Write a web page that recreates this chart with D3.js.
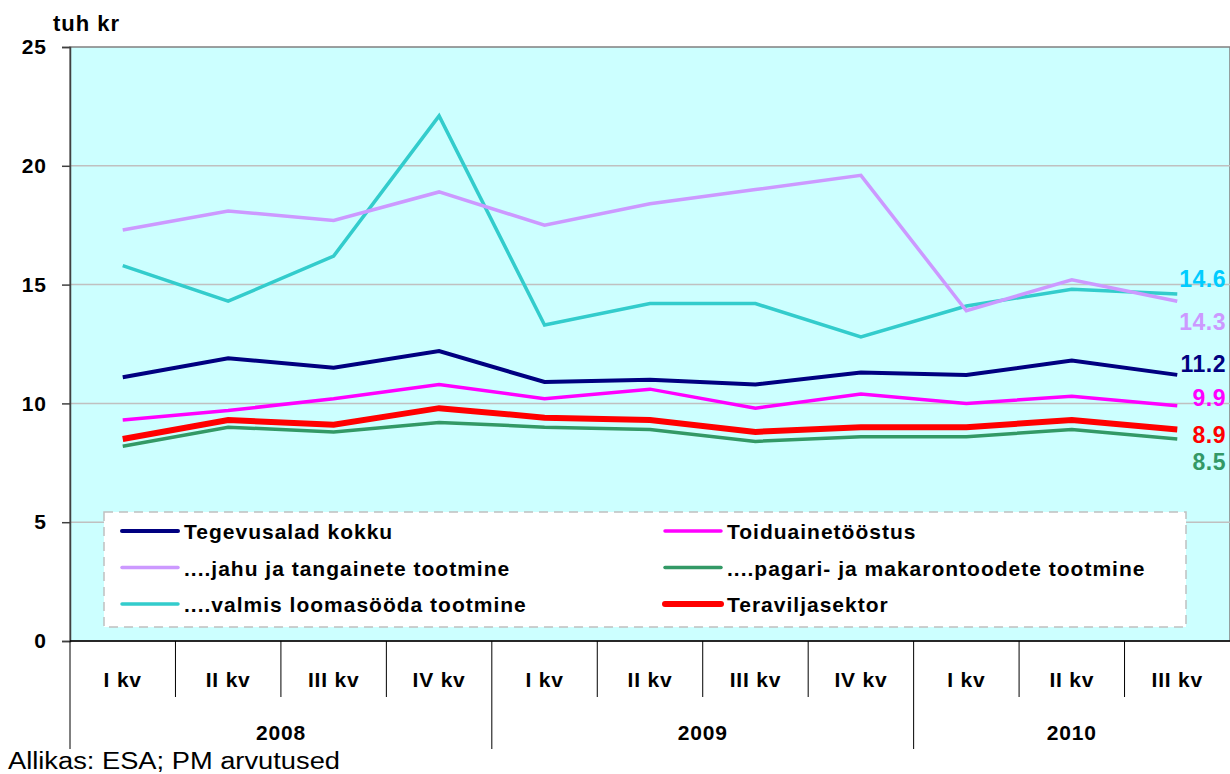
<!DOCTYPE html>
<html>
<head>
<meta charset="utf-8">
<script src="https://d3js.org/d3.v7.min.js"></script>
<style>
  body { margin: 0; background: #ffffff; font-family: "Liberation Sans", Arial, sans-serif; }
  text { font-family: "Liberation Sans", Arial, sans-serif; }
</style>
</head>
<body>
<svg id="chart" width="1230" height="774"></svg>
<script>
// categories
var quarters = ["I kv", "II kv", "III kv", "IV kv", "I kv", "II kv", "III kv", "IV kv", "I kv", "II kv", "III kv"];
var years = ["2008", "2009", "2010"];
var yearSpan = [4, 4, 3];
var yTicks = [0, 5, 10, 15, 20, 25];

// series values (tuh kr)
var tegevusalad = [11.1, 11.9, 11.5, 12.2, 10.9, 11.0, 10.8, 11.3, 11.2, 11.8, 11.2];
var toiduaine  = [9.3, 9.7, 10.2, 10.8, 10.2, 10.6, 9.8, 10.4, 10.0, 10.3, 9.9];
var jahu       = [17.3, 18.1, 17.7, 18.9, 17.5, 18.4, 19.0, 19.6, 13.9, 15.2, 14.3];
var pagari     = [8.2, 9.0, 8.8, 9.2, 9.0, 8.9, 8.4, 8.6, 8.6, 8.9, 8.5];
var loomasoot  = [15.8, 14.3, 16.2, 22.1, 13.3, 14.2, 14.2, 12.8, 14.1, 14.8, 14.6];
var teravili   = [8.5, 9.3, 9.1, 9.8, 9.4, 9.3, 8.8, 9.0, 9.0, 9.3, 8.9];

var series = [
  {name: "Tegevusalad kokku", values: tegevusalad, color: "#000080", width: 4, label: "#000080"},
  {name: "....jahu ja tangainete tootmine", values: jahu, color: "#cc99ff", width: 3.5, label: "#cc99ff"},
  {name: "....valmis loomasööda tootmine", values: loomasoot, color: "#33cccc", width: 3.5, label: "#00ccff"},
  {name: "Toiduainetööstus", values: toiduaine, color: "#ff00ff", width: 3.5, label: "#ff00ff"},
  {name: "....pagari- ja makarontoodete tootmine", values: pagari, color: "#339966", width: 3.5, label: "#339966"},
  {name: "Teraviljasektor", values: teravili, color: "#ff0000", width: 6, label: "#ff0000"}
];
// drawing order (red on top of others)
var drawOrder = [2, 1, 0, 3, 4, 5];
// baseline offsets for end labels so they do not collide
var labelDy = {0: -3, 1: 29, 2: -7, 3: 0, 4: 31, 5: 13};

var svg = d3.select("#chart");
var mLeft = 70, mRight = 1230, mTop = 47, mBottom = 641;

var x = d3.scaleBand().domain(d3.range(quarters.length)).range([mLeft, mRight]);
var y = d3.scaleLinear().domain([0, 25]).range([mBottom, mTop]);

// plot background
svg.append("rect")
  .attr("x", mLeft).attr("y", mTop)
  .attr("width", mRight - mLeft).attr("height", mBottom - mTop)
  .attr("fill", "#ccffff")
  .attr("stroke", "#808080").attr("stroke-width", 1.5);

// gridlines
svg.selectAll(".grid").data(yTicks.filter(function(d) { return d > 0 && d < 25; }))
  .enter().append("line")
  .attr("x1", mLeft).attr("x2", mRight)
  .attr("y1", function(d) { return y(d); }).attr("y2", function(d) { return y(d); })
  .attr("stroke", "#c0c0c0").attr("stroke-width", 1.5);

// y axis
var yAxis = svg.append("g").attr("transform", "translate(" + mLeft + ",0)")
  .call(d3.axisLeft(y).tickValues(yTicks).tickSize(8).tickPadding(15));
yAxis.select(".domain").attr("stroke", "#404040").attr("stroke-width", 1.5);
yAxis.selectAll(".tick line").attr("stroke", "#404040").attr("stroke-width", 1.5);
yAxis.selectAll(".tick text")
  .attr("font-size", 21).attr("font-weight", "bold").attr("fill", "#000")
  .attr("letter-spacing", 1)
  .style("font-family", "'Liberation Sans', Arial, sans-serif");

svg.append("text").attr("x", 53).attr("y", 31)
  .attr("font-size", 22).attr("font-weight", "bold").attr("letter-spacing", 1).text("tuh kr");

// x axis with two levels
svg.append("line").attr("x1", mLeft).attr("x2", mRight).attr("y1", mBottom).attr("y2", mBottom)
  .attr("stroke", "#000").attr("stroke-width", 1.5);

var yearBreaks = [0];
yearSpan.forEach(function(s, i) { yearBreaks.push(yearBreaks[i] + s); });

d3.range(quarters.length).forEach(function(i) {
  var isYear = yearBreaks.indexOf(i) >= 0;
  svg.append("line")
    .attr("x1", x(i)).attr("x2", x(i))
    .attr("y1", mBottom).attr("y2", isYear ? 749 : 697)
    .attr("stroke", "#000").attr("stroke-width", 1);
});

svg.selectAll(".qlab").data(quarters).enter().append("text")
  .attr("x", function(d, i) { return x(i) + x.bandwidth() / 2; })
  .attr("y", 687)
  .attr("text-anchor", "middle")
  .attr("font-size", 21).attr("font-weight", "bold").attr("letter-spacing", 0.8)
  .text(function(d) { return d; });

svg.selectAll(".ylab").data(years).enter().append("text")
  .attr("x", function(d, i) {
    var a = x(yearBreaks[i]);
    var b = yearBreaks[i + 1] < quarters.length ? x(yearBreaks[i + 1]) : mRight;
    return (a + b) / 2;
  })
  .attr("y", 740)
  .attr("text-anchor", "middle")
  .attr("font-size", 21).attr("font-weight", "bold").attr("letter-spacing", 0.8)
  .text(function(d) { return d; });

// lines
var line = d3.line()
  .x(function(d, i) { return x(i) + x.bandwidth() / 2; })
  .y(function(d) { return y(d); });

drawOrder.forEach(function(k) {
  var s = series[k];
  svg.append("path")
    .attr("d", line(s.values))
    .attr("fill", "none")
    .attr("stroke", s.color)
    .attr("stroke-width", s.width)
    .attr("stroke-linejoin", "miter");
});

// end labels
series.forEach(function(s, k) {
  var last = s.values[s.values.length - 1];
  svg.append("text")
    .attr("x", 1226)
    .attr("y", y(last) + labelDy[k])
    .attr("text-anchor", "end")
    .attr("font-size", 23).attr("font-weight", "bold").attr("letter-spacing", 0.5)
    .attr("fill", s.label)
    .text(last.toFixed(1));
});

// legend
var lg = svg.append("g");
lg.append("rect")
  .attr("x", 104).attr("y", 512).attr("width", 1082).attr("height", 115)
  .attr("fill", "#ffffff").attr("stroke", "#c0c0c0").attr("stroke-width", 1.5)
  .attr("stroke-dasharray", "9,6");

var legendCols = [122, 665];
series.forEach(function(s, k) {
  var col = Math.floor(k / 3), row = k % 3;
  var lx = legendCols[col], ly = 531 + row * 36.5;
  lg.append("line")
    .attr("x1", lx).attr("x2", lx + 56)
    .attr("y1", ly).attr("y2", ly)
    .attr("stroke", s.color).attr("stroke-width", s.width)
    .attr("stroke-linecap", "round");
  lg.append("text")
    .attr("x", lx + 62).attr("y", ly + 8)
    .attr("font-size", 21).attr("font-weight", "bold").attr("letter-spacing", 1)
    .text(s.name);
});

// source
svg.append("text").attr("x", 8).attr("y", 769)
  .attr("font-size", 23)
  .attr("textLength", 332).attr("lengthAdjust", "spacingAndGlyphs")
  .text("Allikas: ESA; PM arvutused");
</script>
</body>
</html>
